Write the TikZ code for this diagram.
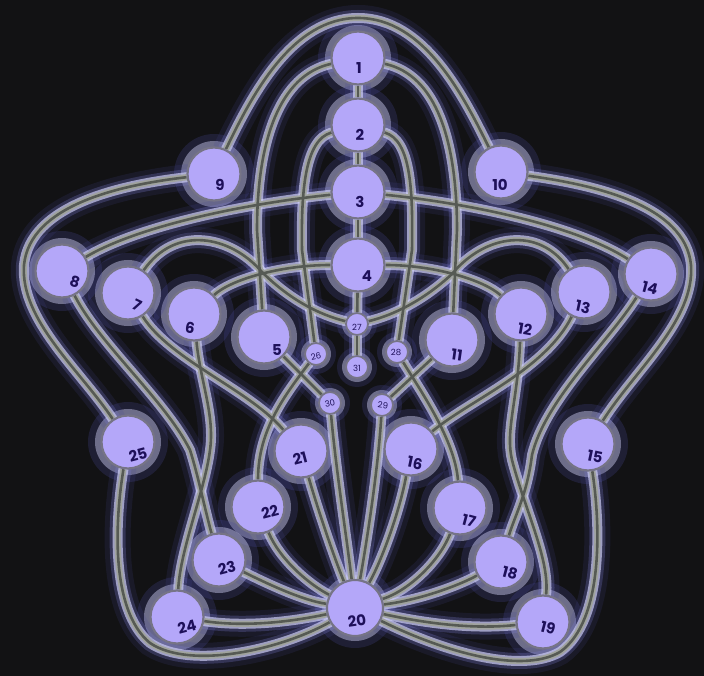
\documentclass[tikz,border=0pt]{standalone}
\usepackage{fontspec}
\setmainfont{Poppins}
\definecolor{bgcol}{RGB}{18,18,20}
\definecolor{nodefill}{RGB}{180,167,249}
\definecolor{nodeedge}{RGB}{118,116,134}
\definecolor{labcol}{RGB}{30,16,90}
\definecolor{glowdark}{RGB}{70,70,150}
\definecolor{glowmid}{RGB}{120,120,205}
\definecolor{glowlight}{RGB}{205,205,242}
\definecolor{tubecol}{RGB}{160,163,158}
\definecolor{corecol}{RGB}{86,90,84}
\pgfdeclarelayer{bg}
\pgfdeclarelayer{glow}
\pgfdeclarelayer{tube}
\pgfdeclarelayer{core}
\pgfsetlayers{bg,glow,tube,core,main}
\newcommand\alledges[1]{%
 \draw[#1] (n1) -- (n2);
 \draw[#1] (n2) -- (n3);
 \draw[#1] (n3) -- (n4);
 \draw[#1] (n4) -- (n27);
 \draw[#1] (n27) -- (n31);
 \draw[#1] (n9) .. controls (252,95) and (292,18) .. (358,18) .. controls (424,18) and (463,95) .. (n10);
 \draw[#1] (n1) .. controls (280,75) and (257,140) .. (257,230) -- (n5);
 \draw[#1] (n1) .. controls (436,75) and (457,140) .. (457,230) -- (n11);
 \draw[#1] (n2) .. controls (305,140) and (301,190) .. (302,250) -- (n26);
 \draw[#1] (n2) .. controls (411,140) and (413,190) .. (412,250) -- (n28);
 \draw[#1] (n3) .. controls (250,203) and (140,225) .. (n8);
 \draw[#1] (n3) .. controls (466,203) and (575,225) .. (n14);
 \draw[#1] (n6) .. controls (230,280) and (280,265) .. (n4);
 \draw[#1] (n12) .. controls (484,280) and (434,265) .. (n4);
 \draw[#1] (n7) .. controls (175,225) and (230,235) .. (262,272) .. controls (290,300) and (320,315) .. (n27);
 \draw[#1] (n13) .. controls (539,225) and (484,235) .. (452,274) .. controls (424,300) and (394,315) .. (n27);
 \draw[#1] (n9) .. controls (120,185) and (30,205) .. (24,265) .. controls (20,320) and (80,370) .. (n25);
 \draw[#1] (n10) .. controls (595,185) and (685,205) .. (691,265) .. controls (695,320) and (635,370) .. (n15);
 \draw[#1] (n8) .. controls (100,345) and (165,400) .. (190,450) .. controls (198,475) and (205,510) .. (n23);
 \draw[#1] (n6) .. controls (200,380) and (215,415) .. (210,450) .. controls (205,490) and (180,550) .. (n24);
 \draw[#1] (n14) .. controls (610,340) and (545,400) .. (532,455) .. controls (527,495) and (515,515) .. (n18);
 \draw[#1] (n12) .. controls (518,400) and (505,430) .. (512,460) .. controls (525,510) and (550,560) .. (n19);
 \draw[#1] (n7) .. controls (170,360) and (250,390) .. (n21);
 \draw[#1] (n13) .. controls (545,370) and (470,400) .. (n16);
 \draw[#1] (n26) .. controls (285,395) and (258,430) .. (n22);
 \draw[#1] (n28) .. controls (420,390) and (455,440) .. (n17);
 \draw[#1] (n5) -- (n30);
 \draw[#1] (n11) -- (n29);
 \draw[#1] (n24) .. controls (250,628) and (300,620) .. (n20);
 \draw[#1] (n23) .. controls (260,580) and (300,600) .. (n20);
 \draw[#1] (n22) .. controls (280,560) and (310,585) .. (n20);
 \draw[#1] (n21) .. controls (318,510) and (335,560) .. (n20);
 \draw[#1] (n30) .. controls (336,470) and (347,540) .. (n20);
 \draw[#1] (n29) .. controls (378,470) and (367,540) .. (n20);
 \draw[#1] (n16) .. controls (400,510) and (382,560) .. (n20);
 \draw[#1] (n17) .. controls (440,560) and (410,590) .. (n20);
 \draw[#1] (n18) .. controls (460,585) and (420,600) .. (n20);
 \draw[#1] (n19) .. controls (470,630) and (420,622) .. (n20);
 \draw[#1] (n25) .. controls (115,520) and (110,610) .. (150,643) .. controls (190,670) and (280,650) .. (n20);
 \draw[#1] (n15) .. controls (600,520) and (605,620) .. (560,652) .. controls (520,675) and (440,650) .. (n20);
}
\begin{document}
\begin{tikzpicture}[x=1pt,y=-1pt,
  big/.style={circle,minimum size=53pt,inner sep=0pt,fill=nodefill,draw=nodeedge,line width=2.2pt},
  small/.style={circle,minimum size=22pt,inner sep=0pt,fill=nodefill,draw=nodeedge,line width=1.8pt},
  lab/.style={text=labcol,inner sep=0pt,font=\fontsize{15}{15}\selectfont\bfseries},
  slab/.style={text=labcol,inner sep=0pt,font=\fontsize{8.5}{8.5}\selectfont},
  glowA/.style={line width=26pt,draw=glowdark,opacity=0.16,line cap=round},
  glowB/.style={line width=16pt,draw=glowmid,opacity=0.28,line cap=round},
  glowC/.style={line width=10pt,draw=glowlight,opacity=0.7,line cap=round},
  tubeS/.style={line width=6.2pt,draw=tubecol},
  coreS/.style={line width=2.6pt,draw=corecol}]
\useasboundingbox (0,0) rectangle (704,676);
\begin{pgfonlayer}{bg}
\fill[bgcol] (0,0) rectangle (704,676);
\end{pgfonlayer}
% nodes
\node[big] (n1) at (358,58) {};
\node[big] (n2) at (358,125) {};
\node[big] (n3) at (358,192) {};
\node[big] (n4) at (358,265) {};
\node[big] (n5) at (264,337) {};
\node[big] (n6) at (194,314) {};
\node[big] (n7) at (128,293) {};
\node[big] (n8) at (62,271) {};
\node[big] (n9) at (214,174) {};
\node[big] (n10) at (501,172) {};
\node[big] (n11) at (452,340) {};
\node[big] (n12) at (521,314) {};
\node[big] (n13) at (584,292) {};
\node[big] (n14) at (651,274) {};
\node[big] (n15) at (588,444) {};
\node[big] (n16) at (411,449) {};
\node[big] (n17) at (460,508) {};
\node[big] (n18) at (501,562) {};
\node[big] (n19) at (543,622) {};
\node[big,minimum size=56pt] (n20) at (355,608) {};
\node[big] (n21) at (301,451) {};
\node[big] (n22) at (258,507) {};
\node[big] (n23) at (219,560) {};
\node[big] (n24) at (177,617) {};
\node[big] (n25) at (128,442) {};
\node[small] (n26) at (316,354) {};
\node[small] (n27) at (357,324) {};
\node[small] (n28) at (397,352) {};
\node[small] (n29) at (382,405) {};
\node[small] (n30) at (330,403) {};
\node[small] (n31) at (357,367) {};
% labels
\node[lab] (t1) at (359,68) {1};
\node[lab] (t2) at (360,135) {2};
\node[lab] (t3) at (360,202) {3};
\node[lab] (t4) at (367,276) {4};
\node[lab] (t5) at (277,350) {5};
\node[lab,rotate=-10] (t6) at (190,328) {6};
\node[lab,rotate=-25] (t7) at (137,305) {7};
\node[lab,rotate=-18] (t8) at (75,282) {8};
\node[lab] (t9) at (220,185) {9};
\node[lab] (t10) at (500,185) {10};
\node[lab,rotate=-8] (t11) at (457,355) {11};
\node[lab,rotate=-10] (t12) at (525,329) {12};
\node[lab,rotate=-12] (t13) at (583,307) {13};
\node[lab,rotate=-15] (t14) at (650,288) {14};
\node[lab,rotate=-12] (t15) at (595,457) {15};
\node[lab,rotate=-12] (t16) at (415,463) {16};
\node[lab,rotate=-15] (t17) at (469,521) {17};
\node[lab,rotate=-15] (t18) at (510,573) {18};
\node[lab,rotate=-15] (t19) at (548,628) {19};
\node[lab,rotate=8] (t20) at (357,621) {20};
\node[lab,rotate=15] (t21) at (300,458) {21};
\node[lab,rotate=15] (t22) at (270,512) {22};
\node[lab,rotate=15] (t23) at (227,568) {23};
\node[lab,rotate=15] (t24) at (187,627) {24};
\node[lab,rotate=15] (t25) at (138,455) {25};
\node[slab,rotate=12] (t26) at (316,356) {26};
\node[slab] (t27) at (357,327) {27};
\node[slab] (t28) at (396,352) {28};
\node[slab,rotate=-8] (t29) at (383,405) {29};
\node[slab,rotate=12] (t30) at (330,403) {30};
\node[slab] (t31) at (357,368) {31};
% edges on layers
\begin{pgfonlayer}{glow}
\foreach \k in {1,...,25} {
  \fill[glowdark,opacity=0.25] (n\k) circle (40pt);
  \fill[glowlight,opacity=0.45] (n\k) circle (33pt);
}
\foreach \k in {26,...,31} {
  \fill[glowdark,opacity=0.25] (n\k) circle (20pt);
  \fill[glowlight,opacity=0.45] (n\k) circle (15pt);
}
\alledges{glowA}
\alledges{glowB}
\alledges{glowC}
\end{pgfonlayer}
\begin{pgfonlayer}{tube}
\alledges{tubeS}
\end{pgfonlayer}
\begin{pgfonlayer}{core}
\alledges{coreS}
\end{pgfonlayer}
\end{tikzpicture}
\end{document}
